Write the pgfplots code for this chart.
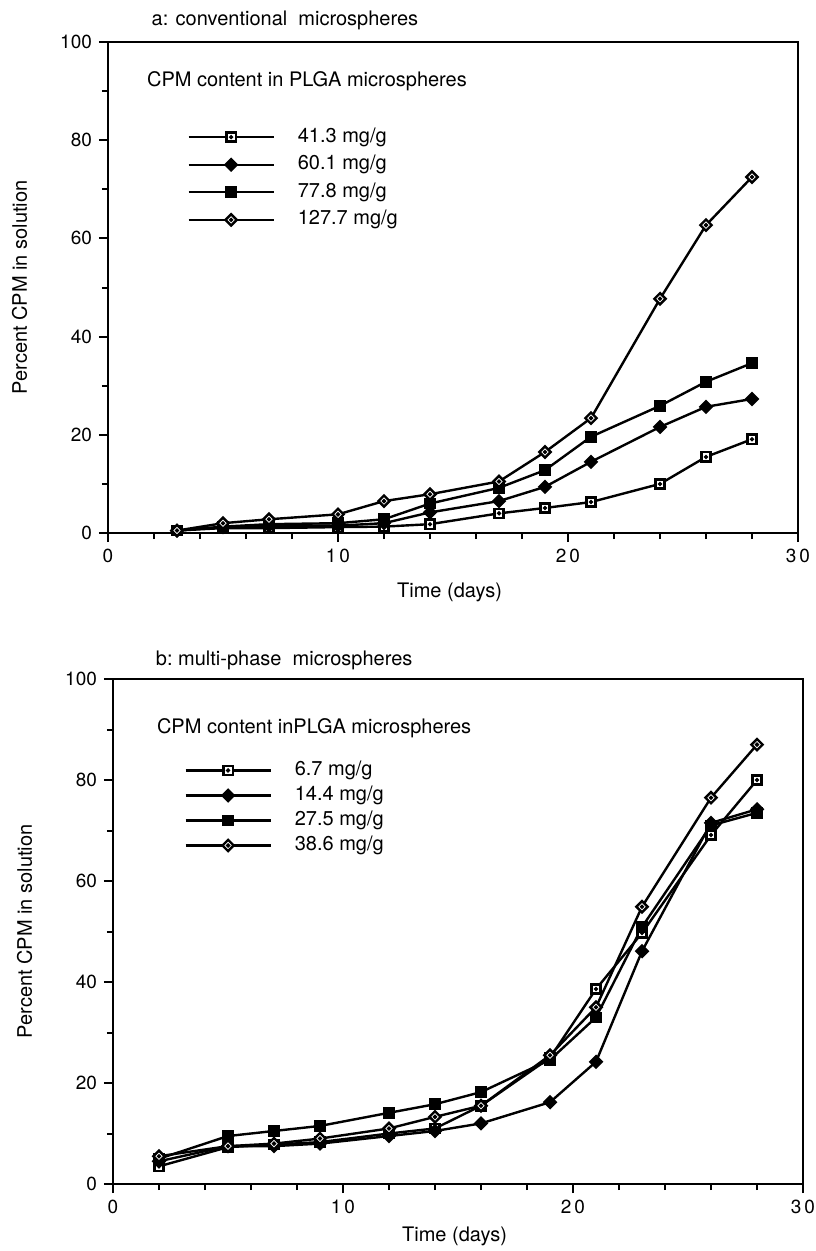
\documentclass[border=0pt]{standalone}
\usepackage{fontspec}
\setmainfont{TeX Gyre Heros}
\usepackage{pgfplots}
\pgfplotsset{compat=1.18}

% open marks with a small dot in the middle, as in the old plot
\pgfdeclareplotmark{sqdot}{%
  \pgfpathrectangle{\pgfpoint{-\pgfplotmarksize}{-\pgfplotmarksize}}{\pgfpoint{2\pgfplotmarksize}{2\pgfplotmarksize}}%
  \pgfusepathqfillstroke
  \pgfpathcircle{\pgfpointorigin}{0.15\pgfplotmarksize}%
  \pgfusepathqstroke}
\pgfdeclareplotmark{dia}{%
  \pgfpathmoveto{\pgfqpoint{0pt}{\pgfplotmarksize}}%
  \pgfpathlineto{\pgfqpoint{\pgfplotmarksize}{0pt}}%
  \pgfpathlineto{\pgfqpoint{0pt}{-\pgfplotmarksize}}%
  \pgfpathlineto{\pgfqpoint{-\pgfplotmarksize}{0pt}}%
  \pgfpathclose
  \pgfusepathqfillstroke}
\pgfdeclareplotmark{diadot}{%
  \pgfpathmoveto{\pgfqpoint{0pt}{\pgfplotmarksize}}%
  \pgfpathlineto{\pgfqpoint{\pgfplotmarksize}{0pt}}%
  \pgfpathlineto{\pgfqpoint{0pt}{-\pgfplotmarksize}}%
  \pgfpathlineto{\pgfqpoint{-\pgfplotmarksize}{0pt}}%
  \pgfpathclose
  \pgfusepathqfillstroke
  \pgfpathcircle{\pgfpointorigin}{0.13\pgfplotmarksize}%
  \pgfusepathqstroke}

\pgfplotsset{
  panel/.style={
    scale only axis,
    width=345pt,
    xmin=0, xmax=30, ymin=0, ymax=100,
    xtick={0,10,20,30},
    xticklabels={0,1\hspace{1.5pt}0,2\hspace{1.5pt}0,3\hspace{1.5pt}0},
    minor xtick={2,4,...,28},
    ytick={0,20,...,100},
    minor ytick={10,30,...,90},
    tick pos=left,
    tick align=outside,
    major tick length=4.5pt,
    minor tick length=3pt,
    tick style={black, line width=1pt},
    axis line style={line width=1.2pt},
    tick label style={font=\fontsize{9.5}{11}\selectfont},
    label style={font=\fontsize{10}{12}\selectfont},
    /pgf/number format/assume math mode=true,
    xlabel={Time (days)},
    ylabel={Percent CPM in solution},
    ylabel style={at={(axis description cs:-0.128,0.5)}, anchor=center},
    legend cell align=left,
    legend style={draw=none, fill=none, inner sep=0pt, column sep=11.5pt,
      font=\fontsize{10}{12}\selectfont,
      nodes={inner sep=0pt, text height=7.5pt, text depth=2.5pt}},
    legend image code/.code={\draw[mark repeat=2,mark phase=2,#1]
      plot coordinates {(0pt,0pt) (21.25pt,0pt) (42.5pt,0pt)};},
    every axis plot/.append style={black, line width=1.2pt,
      mark options={solid, line width=0.8pt}},
    clip=false,
  },
  osq/.style={mark=sqdot, mark size=2.3pt, mark options={fill=white}},
  fsq/.style={mark=square*, mark size=2.3pt, mark options={fill=black}},
  odia/.style={mark=diadot, mark size=2.8pt, mark options={fill=white}},
  fdia/.style={mark=dia, mark size=2.8pt, mark options={fill=black}},
}

\begin{document}
\begin{tikzpicture}
\path[use as bounding box] (0pt,0pt) rectangle (407.5pt,-625.5pt);

% a: conventional microspheres
\begin{axis}[panel, height=245.5pt, at={(54pt,-266.5pt)}, anchor=south west,
  xlabel style={at={(axis description cs:0.495,-0.12)}, anchor=center},
  legend style={at={(axis description cs:0.1145,0.722)}, anchor=west, row sep=3.8pt}]
\addplot[osq] coordinates {
  (3,0.5) (5,1.0) (7,1.0) (10,1.2) (12,1.3) (14,1.8) (17,4.0) (19,5.1)
  (21,6.3) (24,10.0) (26,15.5) (28,19.1)
};
\addplot[fdia] coordinates {
  (3,0.5) (5,1.2) (7,1.5) (10,1.5) (12,2.0) (14,4.2) (17,6.5) (19,9.4)
  (21,14.5) (24,21.6) (26,25.7) (28,27.3)
};
\addplot[fsq] coordinates {
  (3,0.5) (5,1.3) (7,1.8) (10,2.0) (12,2.8) (14,6.0) (17,9.2) (19,12.8)
  (21,19.6) (24,25.9) (26,30.8) (28,34.6)
};
\addplot[odia] coordinates {
  (3,0.5) (5,2.0) (7,2.8) (10,3.8) (12,6.5) (14,7.9) (17,10.5) (19,16.5)
  (21,23.4) (24,47.7) (26,62.7) (28,72.5)
};
\legend{41.3 mg/g, 60.1 mg/g, 77.8 mg/g, 127.7 mg/g}
\node[anchor=west, font=\fontsize{10}{12}\selectfont] at (axis description cs:0.0464,0.9206)
  {CPM content in PLGA microspheres};
\node[anchor=west, font=\fontsize{10}{12}\selectfont] at (axis description cs:0.053,1.043)
  {a: conventional\ \ microspheres};
\end{axis}

% b: multi-phase microspheres
\begin{axis}[panel, height=252.5pt, at={(56.5pt,-592pt)}, anchor=south west,
  xlabel style={at={(axis description cs:0.495,-0.104)}, anchor=center},
  legend style={at={(axis description cs:0.1029,0.7446)}, anchor=west, row sep=2.5pt}]
\addplot[osq] coordinates {
  (2,3.5) (5,7.3) (7,7.8) (9,8.3) (12,10.0) (14,11.0) (16,15.5) (19,25.0)
  (21,38.6) (23,49.7) (26,69.1) (28,80.0)
};
\addplot[fdia] coordinates {
  (2,4.5) (5,7.5) (7,7.5) (9,8.0) (12,9.5) (14,10.5) (16,12.0) (19,16.2)
  (21,24.2) (23,46.1) (26,71.5) (28,74.2)
};
\addplot[fsq] coordinates {
  (2,5.0) (5,9.5) (7,10.5) (9,11.5) (12,14.1) (14,15.8) (16,18.2) (19,24.6)
  (21,33.0) (23,50.9) (26,71.0) (28,73.5)
};
\addplot[odia] coordinates {
  (2,5.5) (5,7.5) (7,8.0) (9,9.0) (12,11.0) (14,13.3) (16,15.5) (19,25.5)
  (21,35.0) (23,54.9) (26,76.5) (28,87.0)
};
\legend{6.7 mg/g, 14.4 mg/g, 27.5 mg/g, 38.6 mg/g}
\node[anchor=west, font=\fontsize{10}{12}\selectfont] at (axis description cs:0.0536,0.903)
  {CPM content inPLGA microspheres};
\node[anchor=west, font=\fontsize{10}{12}\selectfont] at (axis description cs:0.052,1.0376)
  {b:\ multi-phase\ \ microspheres};
\end{axis}
\end{tikzpicture}
\end{document}
